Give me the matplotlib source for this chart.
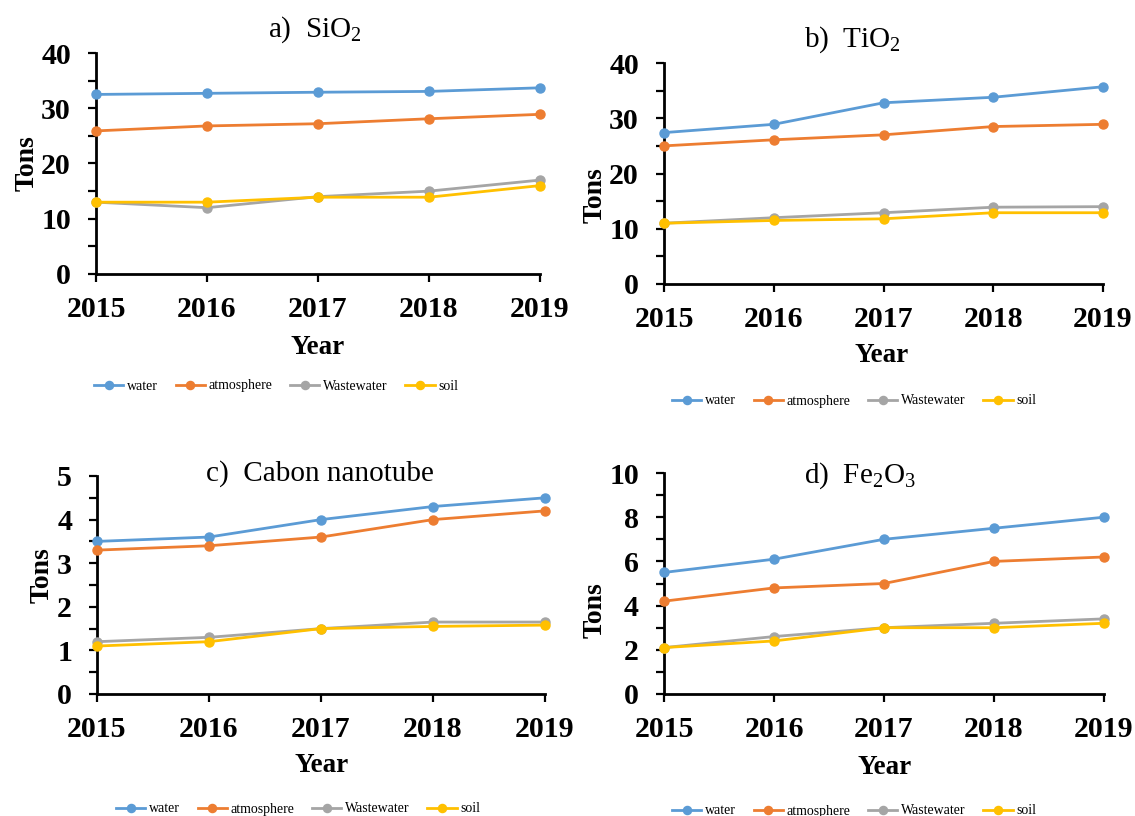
import matplotlib
matplotlib.use("Agg")
import matplotlib.pyplot as plt
from matplotlib.ticker import MultipleLocator

plt.rcParams["font.family"] = ["Liberation Serif", "DejaVu Serif"]
plt.rcParams["mathtext.fontset"] = "custom"
plt.rcParams["mathtext.rm"] = "Liberation Serif"

years = [2015, 2016, 2017, 2018, 2019]
series_names = ["water", "atmosphere", "Wastewater", "soil"]
colors = ["#5B9BD5", "#ED7D31", "#A5A5A5", "#FFC000"]

# a) SiO2
sio2_water = [32.5, 32.7, 32.9, 33.05, 33.7]
sio2_atmosphere = [25.9, 26.8, 27.2, 28.1, 28.9]
sio2_wastewater = [13.0, 12.0, 14.0, 15.0, 17.0]
sio2_soil = [13.0, 13.0, 13.9, 13.9, 16.0]

# b) TiO2
tio2_water = [27.4, 28.9, 32.8, 33.8, 35.7]
tio2_atmosphere = [25.0, 26.1, 27.0, 28.5, 28.9]
tio2_wastewater = [11.0, 12.0, 12.9, 13.9, 14.0]
tio2_soil = [11.0, 11.5, 11.8, 12.9, 12.9]

# c) Carbon nanotube
cnt_water = [3.5, 3.6, 4.0, 4.3, 4.5]
cnt_atmosphere = [3.3, 3.4, 3.6, 4.0, 4.2]
cnt_wastewater = [1.2, 1.3, 1.5, 1.65, 1.65]
cnt_soil = [1.1, 1.2, 1.5, 1.55, 1.58]

# d) Fe2O3
fe2o3_water = [5.5, 6.1, 7.0, 7.5, 8.0]
fe2o3_atmosphere = [4.2, 4.8, 5.0, 6.0, 6.2]
fe2o3_wastewater = [2.1, 2.6, 3.0, 3.2, 3.4]
fe2o3_soil = [2.1, 2.4, 3.0, 3.0, 3.2]

W, H = 1135, 816
fig = plt.figure(figsize=(W / 100, H / 100), dpi=100)


def fx(x):
    return x / W


def fy(y):
    return 1 - y / H


panels = [
    dict(title=r"a)  SiO$\mathregular{_2}$",
         data=[sio2_water, sio2_atmosphere, sio2_wastewater, sio2_soil],
         box=(96, 540, 53, 274), ymax=40, major=10, minor=5,
         title_xy=(315, 30), ylab_xy=(27, 163), xlab_xy=(318, 347), leg_xy=(276, 386)),
    dict(title=r"b)  TiO$\mathregular{_2}$",
         data=[tio2_water, tio2_atmosphere, tio2_wastewater, tio2_soil],
         box=(664, 1103, 63, 284), ymax=40, major=10, minor=5,
         title_xy=(852, 40), ylab_xy=(595, 195), xlab_xy=(882, 355), leg_xy=(854, 401)),
    dict(title="c)  Cabon nanotube",
         data=[cnt_water, cnt_atmosphere, cnt_wastewater, cnt_soil],
         box=(97, 545, 476, 694), ymax=5, major=1, minor=0.5,
         title_xy=(320, 474), ylab_xy=(42, 575), xlab_xy=(322, 765), leg_xy=(298, 809)),
    dict(title=r"d)  Fe$\mathregular{_2}$O$\mathregular{_3}$",
         data=[fe2o3_water, fe2o3_atmosphere, fe2o3_wastewater, fe2o3_soil],
         box=(664, 1104, 473, 694), ymax=10, major=2, minor=1,
         title_xy=(860, 476), ylab_xy=(595, 610), xlab_xy=(885, 767), leg_xy=(854, 811)),
]

for p in panels:
    l, r, t, b = p["box"]
    ax = fig.add_axes([fx(l), fy(b), (r - l) / W, (b - t) / H])
    handles = []
    for vals, name, c in zip(p["data"], series_names, colors):
        h, = ax.plot(years, vals, color=c, lw=2.0, marker="o", ms=6.5,
                     label=name, clip_on=False, zorder=3)
        handles.append(h)
    ax.set_xlim(2015, 2019)
    ax.set_ylim(0, p["ymax"])
    ax.set_xticks(years)
    ax.yaxis.set_major_locator(MultipleLocator(p["major"]))
    ax.yaxis.set_minor_locator(MultipleLocator(p["minor"]))
    for s in ("top", "right"):
        ax.spines[s].set_visible(False)
    for s in ("left", "bottom"):
        ax.spines[s].set_linewidth(2.0)
    ax.tick_params(axis="both", which="both", direction="out", length=6, width=1.6)
    ax.tick_params(axis="y", labelsize=21.5, pad=12)
    ax.tick_params(axis="x", labelsize=21.5, pad=10)
    for lab in ax.get_xticklabels() + ax.get_yticklabels():
        lab.set_fontweight("bold")

    fig.text(fx(p["title_xy"][0]), fy(p["title_xy"][1]), p["title"],
             fontsize=21, ha="center", va="center")
    fig.text(fx(p["ylab_xy"][0]), fy(p["ylab_xy"][1]), "Tons", rotation=90,
             fontsize=20, fontweight="bold", ha="center", va="center")
    fig.text(fx(p["xlab_xy"][0]), fy(p["xlab_xy"][1]), "Year",
             fontsize=19.5, fontweight="bold", ha="center", va="center")
    fig.legend(handles=handles, loc="center", ncol=4, frameon=False,
               bbox_to_anchor=(fx(p["leg_xy"][0]), fy(p["leg_xy"][1])),
               fontsize=10, handlelength=2.1, handletextpad=0.25,
               columnspacing=1.3, borderaxespad=0, markerscale=0.9)

fig.savefig("out.png", dpi=100)
